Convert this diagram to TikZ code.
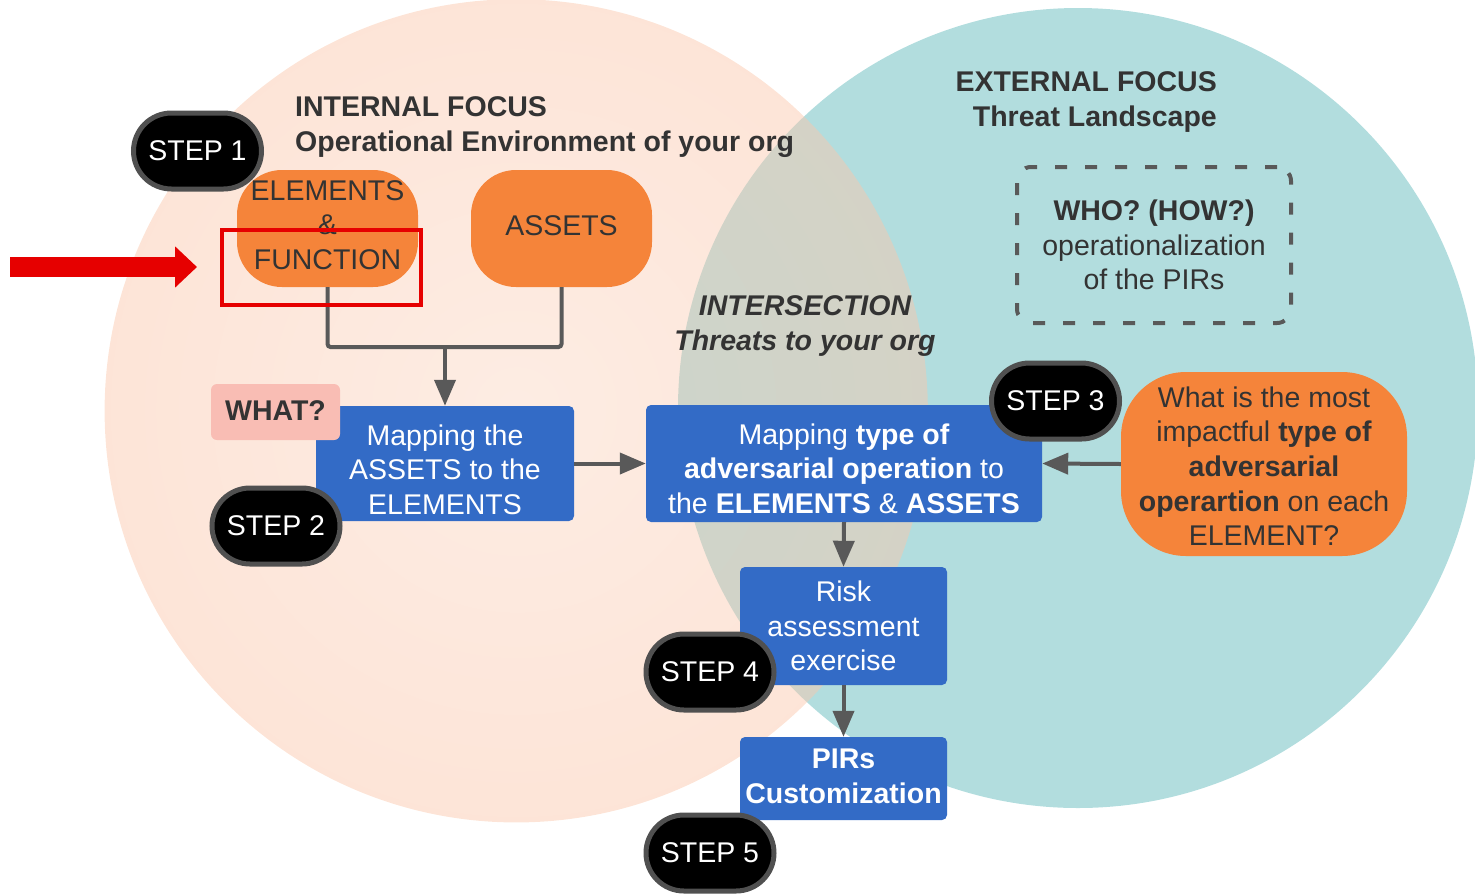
\documentclass[tikz,border=0pt]{standalone}
\usepackage{fontspec}
\setmainfont{Liberation Sans}
\usetikzlibrary{arrows.meta,fadings}

\definecolor{peach}{HTML}{FAC8AD}
\definecolor{tealbg}{HTML}{B2DDDE}
\definecolor{boxblue}{HTML}{336BC6}
\definecolor{boxorange}{HTML}{F5843A}
\definecolor{whatpink}{HTML}{F9BDB4}
\definecolor{inkdark}{HTML}{333333}
\definecolor{linegray}{HTML}{595959}
\definecolor{pillborder}{HTML}{505050}
\definecolor{alertred}{HTML}{E60000}

% the internal-focus disc is pale in the middle and denser toward its rim
\pgfdeclareradialshading{peachmask}{\pgfpointorigin}{%
  color(0bp)=(black!66); color(28bp)=(black!50); color(44bp)=(black!26); color(50bp)=(black!3)}
\pgfdeclarefading{peachfade}{\pgfuseshading{peachmask}}

% invisible struts that push a text block down (top) or up (bottom)
\newcommand{\padtop}[1]{\rule{0pt}{#1pt}}
\newcommand{\padbot}[1]{\rule[-#1pt]{0pt}{#1pt}}

\tikzset{
  lbl/.style={font=\fontsize{28.5}{34.6}\selectfont, text=inkdark, inner sep=0},
  pill/.style={lbl, text=white, fill=black, draw=pillborder, line width=5,
    rounded corners=38, minimum width=128, minimum height=76},
  bluebox/.style={lbl, text=white, fill=boxblue, rounded corners=5, align=center},
  orangebox/.style={lbl, fill=boxorange, align=center},
  link/.style={draw=linegray, line width=4},
  flow/.style={link, -{Triangle[length=26pt,width=21pt]}},
}

\begin{document}
\begin{tikzpicture}[x=1pt,y=-1pt]
\useasboundingbox (0,0) rectangle (1475,895);

% the two overlapping focus areas
\fill[tealbg] (1078,408) circle[radius=400];
\fill[peach, path fading=peachfade] (517,410) circle[radius=412];

% area headings
\node[lbl, font=\fontsize{28.5}{34.6}\selectfont\bfseries, anchor=west, align=left]
  (internal) at (295,127) {INTERNAL FOCUS\\Operational Environment of your org};
\node[lbl, font=\fontsize{28.5}{34.6}\selectfont\bfseries, anchor=east, align=right]
  (external) at (1217,102) {EXTERNAL FOCUS\\Threat Landscape};
\node[lbl, font=\fontsize{28.5}{34.6}\selectfont\bfseries\itshape, align=center]
  (intersection) at (805,326) {INTERSECTION\\Threats to your org};

% step boxes
\node[orangebox, rounded corners=45, minimum width=181, minimum height=117]
  (elements) at (327.5,228.5) {ELEMENTS\\\&\\FUNCTION\padbot{7}};
\node[orangebox, rounded corners=45, minimum width=181, minimum height=117]
  (assets) at (561.5,228.5) {ASSETS\padbot{6}};
\node[bluebox, minimum width=258, minimum height=115]
  (map1) at (445,463.5) {\padtop{33}Mapping the\\ASSETS to the\\ELEMENTS};
\node[lbl, font=\fontsize{28.5}{34.6}\selectfont\bfseries, fill=whatpink,
  rounded corners=6, minimum width=129, minimum height=56]
  (what) at (275.5,412) {WHAT?\padbot{3}};
\node[bluebox, minimum width=396, minimum height=117]
  (map2) at (844,463.5)
  {\padtop{31}Mapping \textbf{type of}\\\textbf{adversarial operation} to\\the \textbf{ELEMENTS} \& \textbf{ASSETS}};
\node[orangebox, rounded corners=65, minimum width=286, minimum height=184]
  (impact) at (1264,464)
  {\padtop{25}What is the most\\impactful \textbf{type of}\\\textbf{adversarial}\\\textbf{operartion} on each\\ELEMENT?};
\node[lbl, draw=linegray, line width=4, dash pattern=on 12pt off 18pt,
  rounded corners=14, minimum width=274, minimum height=156, align=center]
  (who) at (1154,245) {\textbf{WHO? (HOW?)}\\operationalization\\of the PIRs};
\node[bluebox, minimum width=207, minimum height=118]
  (risk) at (843.5,626) {Risk\\assessment\\exercise};
\node[bluebox, font=\fontsize{28.5}{34.6}\selectfont\bfseries, minimum width=207, minimum height=83]
  (pirs) at (843.5,778.5) {PIRs\\Customization\padbot{5}};

% flow between the steps
\coordinate (join) at (445,347);
\draw[link, rounded corners=3] (elements.south) |- (join);
\draw[link, rounded corners=3] (assets.south) |- (join);
\draw[flow] (join) -- (map1.north);
\draw[flow] (map1.east) -- (map2.west);
\draw[flow] (impact.west) -- (map2.east);
\draw[flow] (map2.south) -- (risk.north);
\draw[flow] (risk.south) -- (pirs.north);

% step badges
\node[pill] (step1) at (197.5,151) {STEP 1};
\node[pill] (step2) at (276,526) {STEP 2};
\node[pill] (step3) at (1055.5,401) {STEP 3};
\node[pill] (step4) at (710,672) {STEP 4};
\node[pill] (step5) at (710,853) {STEP 5};

% highlight on the function line
\node[draw=alertred, line width=4, minimum width=199, minimum height=75, inner sep=0]
  (highlight) at (321.5,267.5) {};
\coordinate (redtail) at (10,267);
\coordinate (redtip) at (197,267);
\draw[alertred, line width=20, -{Triangle[length=22pt,width=40pt]}] (redtail) -- (redtip);
\end{tikzpicture}
\end{document}
